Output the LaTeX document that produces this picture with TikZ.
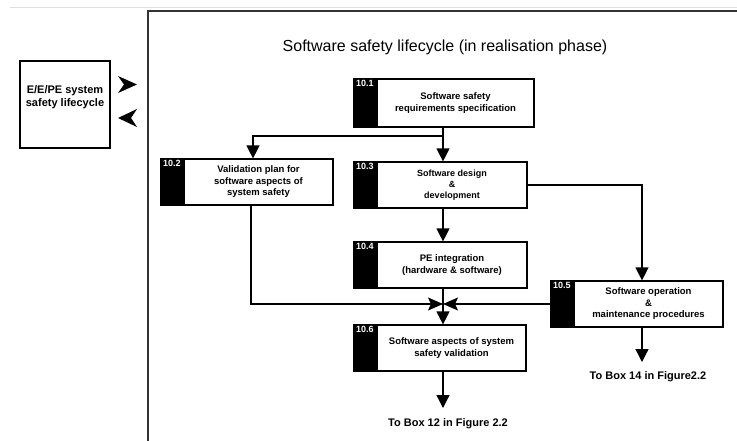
\documentclass[tikz,border=0pt]{standalone}
\usepackage{fontspec}
\setmainfont{Liberation Sans}
\usetikzlibrary{arrows.meta}
\begin{document}
\begin{tikzpicture}[x=1pt,y=-1pt,
  box/.style={draw, line width=1.2pt, minimum height=46pt, inner sep=1pt, align=center,
    font=\bfseries\fontsize{9.5}{11.5}\selectfont},
  tabbox/.style={draw, fill=black, line width=1.2pt, minimum width=22pt, minimum height=46pt, inner sep=0pt},
  num/.style={text=white, font=\bfseries\fontsize{9}{10.8}\selectfont, inner sep=1.5pt},
  conn/.style={line width=1.3pt},
  arr/.style={conn, -{Triangle[width=13pt,length=13pt]}},
  sarr/.style={conn, -{Stealth[width=13pt,length=15pt,inset=3pt]}},
  endtxt/.style={font=\bfseries\fontsize{11}{13}\selectfont, inner sep=0pt}
]
\useasboundingbox (0,0) rectangle (737,441);
\fill[white] (0,0) rectangle (737,441);
% page edge and frame
\draw[gray!25, line width=1pt] (10,8) -- (737,8);
\draw[black!80, line width=1.6pt] (148,441) -- (148,11) -- (737,11);

% title
\node[font=\fontsize{16}{19}\selectfont] (title) at (445,47) {Software safety lifecycle (in realisation phase)};

% E/E/PE box
\node[draw, line width=1.2pt, minimum width=90pt, minimum height=87pt] (ee) at (65,104.5) {};
\node[font=\bfseries\fontsize{11}{13.5}\selectfont, align=center] (eet) at (65,97) {E/E/PE system\\safety lifecycle};
\fill (118,76) -- (137,84.5) -- (118,93) -- (124,84.5) -- cycle;
\fill (118,118) -- (137,109) -- (131,118) -- (137,127) -- cycle;

% boxes
\node[box, minimum width=157pt, minimum height=48pt] (b1) at (455.5,103) {Software safety\\requirements specification};
\node[tabbox, minimum height=48pt, anchor=north east] (t1) at (b1.north west) {};
\node[num, anchor=north] (n1) at (t1.north) {10.1};

\node[box, minimum width=149pt] (b2) at (258.5,182) {Validation plan for\\software aspects of\\system safety};
\node[tabbox, anchor=north east] (t2) at (b2.north west) {};
\node[num, anchor=north] (n2) at (t2.north) {10.2};

\node[box, minimum width=150pt, font=\bfseries\fontsize{9}{11}\selectfont] (b3) at (452,185) {Software design\\\&\\development};
\node[tabbox, anchor=north east] (t3) at (b3.north west) {};
\node[num, anchor=north] (n3) at (t3.north) {10.3};

\node[box, minimum width=150pt] (b4) at (452,265) {PE integration\\(hardware \& software)};
\node[tabbox, anchor=north east] (t4) at (b4.north west) {};
\node[num, anchor=north] (n4) at (t4.north) {10.4};

\node[box, minimum width=149pt] (b5) at (648.5,304) {Software operation\\\&\\maintenance procedures};
\node[tabbox, anchor=north east] (t5) at (b5.north west) {};
\node[num, anchor=north] (n5) at (t5.north) {10.5};

\node[box, minimum width=149pt] (b6) at (451.5,348) {Software aspects of system\\safety validation};
\node[tabbox, anchor=north east] (t6) at (b6.north west) {};
\node[num, anchor=north] (n6) at (t6.north) {10.6};

% helper coordinates
\coordinate (cx) at (443,0);
\coordinate (lx) at (253,0);
\coordinate (lx2) at (251,0);
\coordinate (rx) at (642,0);
\coordinate (j1) at (443,136);
\coordinate (j2) at (443,304);
\coordinate (e1) at (443,408);
\coordinate (e2) at (642,362);

% connectors
\draw[conn] (b1.south -| cx) -- (j1);
\draw[arr] (j1) -| (b2.north -| lx);
\draw[arr] (j1) -- (b3.north -| cx);
\draw[arr] (b3.south -| cx) -- (b4.north -| cx);
\draw[arr] (b3.east) -| (b5.north -| rx);
\draw[arr] (b4.south -| cx) -- (b6.north -| cx);
\draw[sarr] (b2.south -| lx2) |- (j2);
\draw[sarr] (t5.west) -- (j2);
\draw[arr] (b6.south -| cx) -- (e1);
\draw[arr] (b5.south -| rx) -- (e2);

% end texts
\node[endtxt] (o1) at (448,424) {To Box 12 in Figure 2.2};
\node[endtxt] (o2) at (648,377) {To Box 14 in Figure2.2};
\end{tikzpicture}
\end{document}
